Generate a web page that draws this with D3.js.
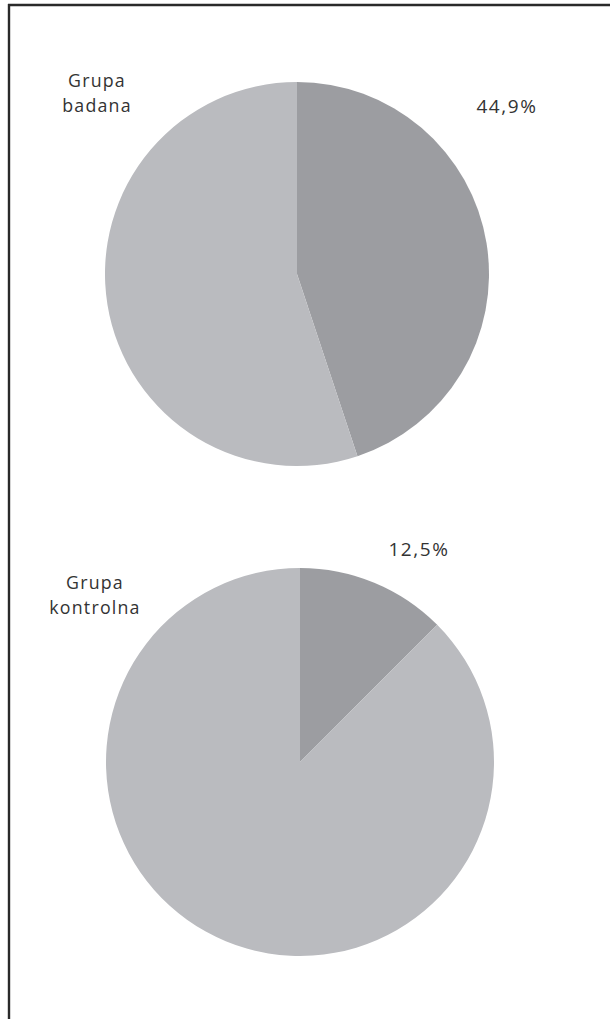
<!DOCTYPE html>
<html><head><meta charset="utf-8">
<script src="https://cdn.jsdelivr.net/npm/d3@7"></script>
<style>html,body{margin:0;padding:0;background:#fff;}svg{display:block;}</style>
</head><body>
<svg id="c" width="610" height="1019"></svg>
<script>
const groups = ["Grupa badana", "Grupa kontrolna"];
const groupLines = [["Grupa", "badana"], ["Grupa", "kontrolna"]];
const sliceNames = ["tak", "nie"];
const valuesBadana = [44.9, 55.1];
const valuesKontrolna = [12.5, 87.5];
const labelTexts = ["44,9%", "12,5%"];
const sliceColors = ["#9c9da1", "#babbbf"];

const svg = d3.select("#c");
// frame
svg.append("line").attr("x1", 8).attr("x2", 610).attr("y1", 5).attr("y2", 5).attr("stroke", "#2a2a2a").attr("stroke-width", 2.4);
svg.append("line").attr("x1", 9).attr("x2", 9).attr("y1", 4).attr("y2", 1019).attr("stroke", "#2a2a2a").attr("stroke-width", 2.4);

const color = d3.scaleOrdinal().domain(sliceNames).range(sliceColors);
const pie = d3.pie().sort(null).value(d => d.v);

const charts = [
  {vals: valuesBadana, cx: 297, cy: 274, r: 192, title: groupLines[0], tx: 97, ty: 87, lab: labelTexts[0], lx: 507, ly: 113},
  {vals: valuesKontrolna, cx: 300, cy: 762, r: 194, title: groupLines[1], tx: 95, ty: 589, lab: labelTexts[1], lx: 419, ly: 556}
];

charts.forEach(c => {
  const g = svg.append("g").attr("transform", `translate(${c.cx},${c.cy})`);
  const arc = d3.arc().innerRadius(0).outerRadius(c.r);
  const data = pie(c.vals.map((v, i) => ({name: sliceNames[i], v})));
  g.selectAll("path").data(data).join("path")
    .attr("d", arc).attr("fill", d => color(d.data.name));
  c.title.forEach((s, i) => svg.append("text").attr("x", c.tx).attr("y", c.ty + i * 24.5)
    .attr("text-anchor", "middle").attr("font-family", "'Open Sans', sans-serif")
    .attr("font-size", 17.8).attr("letter-spacing", 1.2).attr("fill", "#333").text(s));
  svg.append("text").attr("x", c.lx).attr("y", c.ly).attr("text-anchor", "middle")
    .attr("font-family", "'Open Sans', sans-serif").attr("font-size", 19)
    .attr("letter-spacing", 1.6).attr("fill", "#333").text(c.lab);
});
</script>
</body></html>
